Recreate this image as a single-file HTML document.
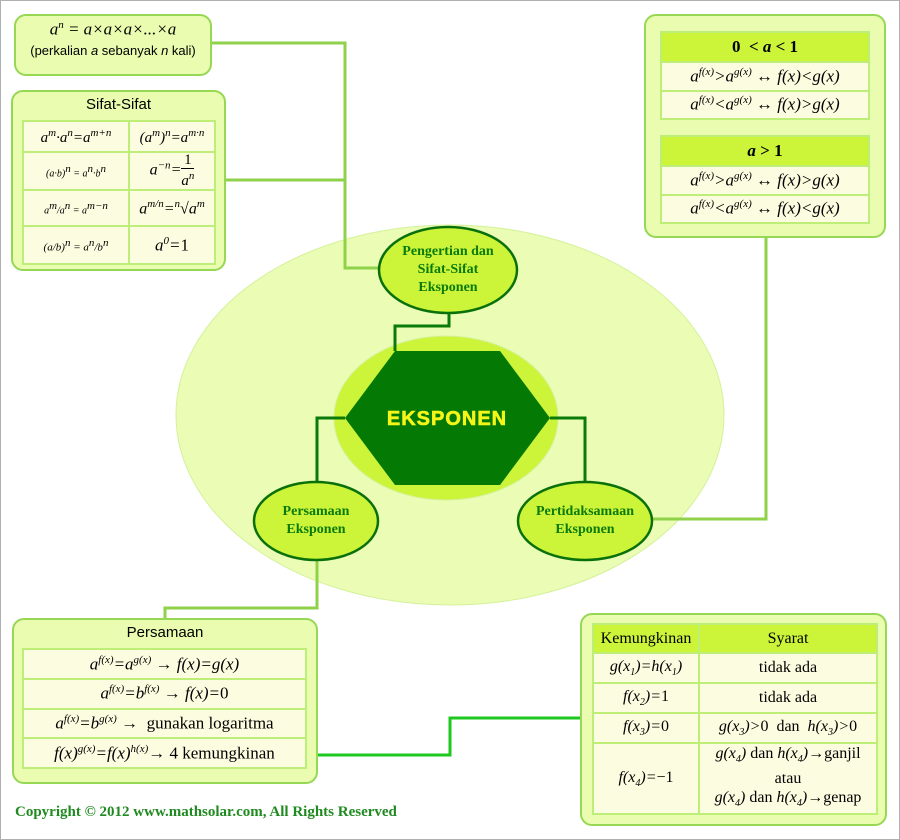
<!DOCTYPE html>
<html><head><meta charset="utf-8"><style>
body{margin:0;width:900px;height:840px;background:#fff;position:relative;overflow:hidden;font-family:"Liberation Serif",serif}
.frame{position:absolute;left:0;top:0;width:898px;height:838px;border:1px solid #b0b0b0}
.box{position:absolute;background:#e9fcaf;border:2px solid #96d854;border-radius:12px;box-sizing:border-box}
table{position:absolute;border-collapse:collapse;background:#fcfde0}
td{border:2px solid #bdee78;text-align:center;padding:0;font-size:17px;font-style:italic;white-space:nowrap}
td.n{font-style:normal}
.hd td{background:#ccf53a;font-style:normal}
.sans{font-family:"Liberation Sans",sans-serif;font-style:normal}
sup{font-size:11px}
sub{font-size:10px}
.k td{font-size:16px}
</style></head><body>
<div class="frame"></div>
<svg width="900" height="840" style="position:absolute;left:0;top:0">
<ellipse cx="450" cy="415" rx="274" ry="190" fill="#ebfcb4" stroke="#d4f19a" stroke-width="1"/>
<g fill="none" stroke="#8fd24a" stroke-width="3">
<polyline points="211,43 345,43 345,268 379,268"/>
<polyline points="226,180 345,180"/>
<polyline points="652,519 766,519 766,237"/>
<polyline points="317,560 317,608 165,608 165,620"/>
</g>
<polyline points="300,755 450,755 450,718 582,718" fill="none" stroke="#1ec81e" stroke-width="3"/>
<ellipse cx="446" cy="418" rx="112" ry="82" fill="#ccf53a" stroke="#d4f19a"/>
<g fill="none" stroke="#0a7a0a" stroke-width="3">
<polyline points="395,351 395,326 449,326 449,313"/>
<polyline points="345,418 317,418 317,482"/>
<polyline points="550,418 585,418 585,482"/>
</g>
<polygon points="395,351 500,351 550,418 500,485 395,485 345,418" fill="#047a04"/>
<text x="447" y="425" text-anchor="middle" font-family="Liberation Sans, sans-serif" font-weight="900" font-size="20" letter-spacing="1" fill="#f5f51a" stroke="#f5f51a" stroke-width="0.6">EKSPONEN</text>
<g fill="#ccf53a" stroke="#0a700a" stroke-width="2.5">
<ellipse cx="448" cy="270" rx="69" ry="43"/>
<ellipse cx="316" cy="521" rx="62" ry="39"/>
<ellipse cx="585" cy="521" rx="67" ry="39"/>
</g>
<g font-family="Liberation Serif, serif" font-weight="bold" font-size="14" fill="#0a7a0a" text-anchor="middle">
<text x="448" y="255">Pengertian dan</text>
<text x="448" y="273">Sifat-Sifat</text>
<text x="448" y="291">Eksponen</text>
<text x="316" y="515">Persamaan</text>
<text x="316" y="533">Eksponen</text>
<text x="585" y="515">Pertidaksamaan</text>
<text x="585" y="533">Eksponen</text>
</g>
<text x="15" y="816" font-family="Liberation Serif, serif" font-weight="bold" font-size="15" fill="#1f8a1f">Copyright © 2012 www.mathsolar.com, All Rights Reserved</text>
</svg>

<div class="box" style="left:14px;top:14px;width:198px;height:62px;text-align:center">
<div style="font-style:italic;font-size:17px;margin-top:3px">a<sup>n</sup> = a×a×a×...×a</div>
<div class="sans" style="font-size:13px;margin-top:3px">(perkalian <i>a</i> sebanyak <i>n</i> kali)</div>
</div>

<div class="box" style="left:11px;top:90px;width:215px;height:181px">
<div class="sans" style="text-align:center;font-size:15px;margin-top:4px">Sifat-Sifat</div>
</div>
<table style="left:22px;top:120px;width:194px;height:143px">
<tr style="height:31px"><td style="width:104px;font-size:15px">a<sup>m</sup>·a<sup>n</sup>=a<sup>m+n</sup></td><td style="font-size:15px">(a<sup>m</sup>)<sup>n</sup>=a<sup>m·n</sup></td></tr>
<tr style="height:38px"><td style="font-size:10px">(a·b)<sup>n</sup> = a<sup>n</sup>·b<sup>n</sup></td><td style="font-size:16px">a<sup>−n</sup>=<span style="display:inline-block;vertical-align:middle;text-align:center;font-size:15px;line-height:15px"><span style="font-style:normal;border-bottom:1px solid #000;display:block">1</span>a<sup>n</sup></span></td></tr>
<tr style="height:36px"><td style="font-size:10px">a<sup>m</sup>/a<sup>n</sup> = a<sup>m−n</sup></td><td style="font-size:16px">a<sup>m/n</sup>=<sup>n</sup>√a<sup>m</sup></td></tr>
<tr style="height:38px"><td style="font-size:11px">(a/b)<sup>n</sup> = a<sup>n</sup>/b<sup>n</sup></td><td style="font-size:17px">a<sup>0</sup>=<span style="font-style:normal">1</span></td></tr>
</table>

<div class="box" style="left:644px;top:14px;width:242px;height:224px"></div>
<table style="left:660px;top:31px;width:210px;height:89px">
<tr class="hd" style="height:30px"><td style="font-weight:bold">0 &nbsp;&lt; <i>a</i> &lt; 1</td></tr>
<tr><td>a<sup>f(x)</sup>&gt;a<sup>g(x)</sup> ↔ f(x)&lt;g(x)</td></tr>
<tr><td>a<sup>f(x)</sup>&lt;a<sup>g(x)</sup> ↔ f(x)&gt;g(x)</td></tr>
</table>
<table style="left:660px;top:135px;width:210px;height:89px">
<tr class="hd" style="height:30px"><td style="font-weight:bold"><i>a</i> &gt; 1</td></tr>
<tr><td>a<sup>f(x)</sup>&gt;a<sup>g(x)</sup> ↔ f(x)&gt;g(x)</td></tr>
<tr><td>a<sup>f(x)</sup>&lt;a<sup>g(x)</sup> ↔ f(x)&lt;g(x)</td></tr>
</table>

<div class="box" style="left:12px;top:618px;width:306px;height:166px">
<div class="sans" style="text-align:center;font-size:15px;margin-top:4px">Persamaan</div>
</div>
<table style="left:22px;top:648px;width:285px;height:121px">
<tr><td>a<sup>f(x)</sup>=a<sup>g(x)</sup> → f(x)=g(x)</td></tr>
<tr><td>a<sup>f(x)</sup>=b<sup>f(x)</sup> → f(x)=<span style="font-style:normal">0</span></td></tr>
<tr><td>a<sup>f(x)</sup>=b<sup>g(x)</sup> → <span style="font-style:normal">&nbsp;gunakan logaritma</span></td></tr>
<tr><td>f(x)<sup>g(x)</sup>=f(x)<sup>h(x)</sup>→ <span style="font-style:normal">4 kemungkinan</span></td></tr>
</table>

<div class="box" style="left:580px;top:613px;width:307px;height:213px"></div>
<table class="k" style="left:592px;top:623px;width:286px;height:192px">
<tr class="hd" style="height:29px"><td style="width:104px">Kemungkinan</td><td>Syarat</td></tr>
<tr style="height:30px"><td>g(x<sub>1</sub>)=h(x<sub>1</sub>)</td><td class="n">tidak ada</td></tr>
<tr style="height:30px"><td>f(x<sub>2</sub>)=<span style="font-style:normal">1</span></td><td class="n">tidak ada</td></tr>
<tr style="height:30px"><td>f(x<sub>3</sub>)=<span style="font-style:normal">0</span></td><td>g(x<sub>3</sub>)&gt;<span style="font-style:normal">0 &nbsp;dan&nbsp;</span> h(x<sub>3</sub>)&gt;<span style="font-style:normal">0</span></td></tr>
<tr><td>f(x<sub>4</sub>)=<span style="font-style:normal">−1</span></td><td style="line-height:19px">g(x<sub>4</sub>) <span style="font-style:normal">dan</span> h(x<sub>4</sub>)→<span style="font-style:normal">ganjil<br>atau</span><br>g(x<sub>4</sub>) <span style="font-style:normal">dan</span> h(x<sub>4</sub>)→<span style="font-style:normal">genap</span></td></tr>
</table>
</body></html>
